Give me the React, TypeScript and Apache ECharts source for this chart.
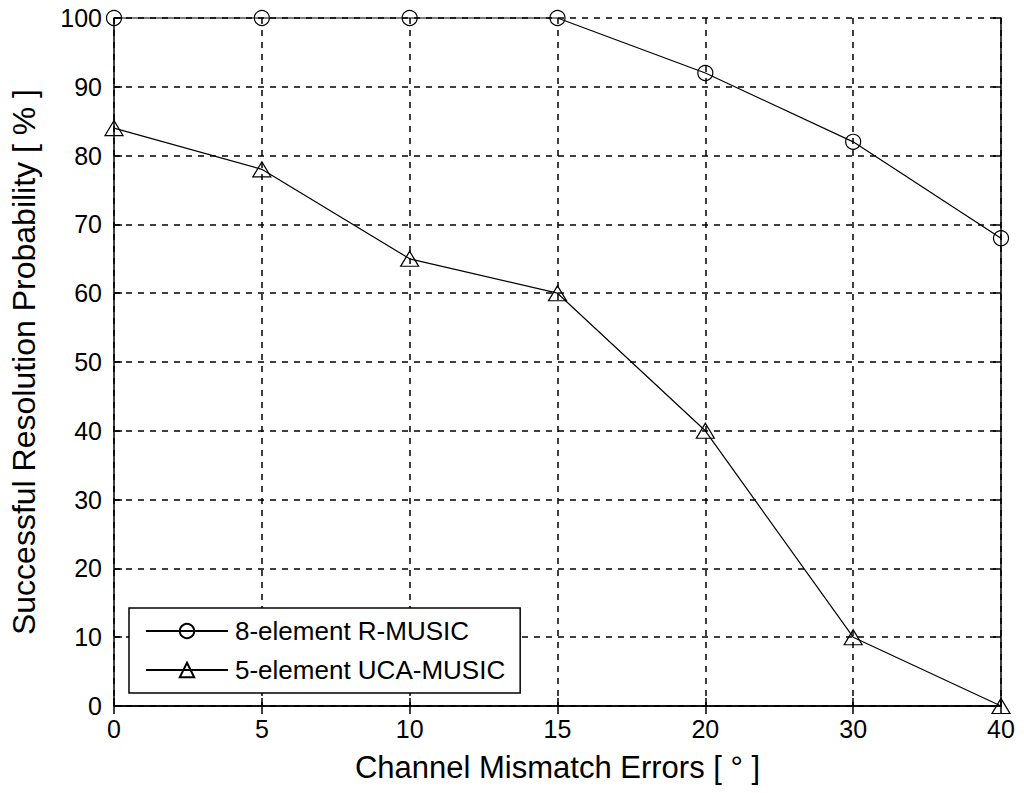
import React, { useEffect, useRef } from "react";
import * as echarts from "echarts";

const categories = ["0", "5", "10", "15", "20", "30", "40"];
const rMusic = [100, 100, 100, 100, 92, 82, 68];
const ucaMusic = [84, 78, 65, 60, 40, 10, 0];
const seriesNames = ["8-element R-MUSIC", "5-element UCA-MUSIC"];

const FONT = "Liberation Sans, Arial, sans-serif";

export default function App() {
  const ref = useRef<HTMLDivElement>(null);
  useEffect(() => {
    if (!ref.current) return;
    const chart = echarts.init(ref.current, undefined, { renderer: "svg" });
    const axisLine = { show: true, lineStyle: { color: "#000", width: 1.5 } };
    const tick = { show: true, inside: true, length: 8, lineStyle: { color: "#000", width: 1.5 } };
    chart.setOption({
      animation: false,
      backgroundColor: "#fff",
      textStyle: { fontFamily: FONT, color: "#000" },
      grid: { left: 113, right: 23, top: 18, bottom: 87, containLabel: false },
      legend: {
        orient: "vertical",
        left: 129,
        top: 608,
        padding: [8, 15, 8, 16],
        backgroundColor: "#fff",
        borderColor: "#000",
        borderWidth: 1.5,
        borderRadius: 0,
        itemWidth: 82,
        itemHeight: 18,
        itemGap: 9,
        data: seriesNames,
        textStyle: { fontFamily: FONT, fontSize: 26, lineHeight: 30, color: "#000", padding: [0, 0, 0, 2] },
      },
      xAxis: [
        {
          type: "category",
          data: categories,
          boundaryGap: false,
          axisLine,
          axisTick: { ...tick, alignWithLabel: true },
          axisLabel: { color: "#000", fontSize: 25, fontFamily: FONT, margin: 10 },
          splitLine: { show: true, lineStyle: { color: "#000", type: [6, 6], width: 1.5 } },
          name: "Channel Mismatch Errors [ ° ]",
          nameLocation: "middle",
          nameGap: 46,
          nameTextStyle: { color: "#000", fontSize: 31, fontFamily: FONT },
        },
        {
          type: "category",
          data: categories,
          boundaryGap: false,
          position: "top",
          axisLine,
          axisTick: tick,
          axisLabel: { show: false },
          splitLine: { show: false },
        },
      ],
      yAxis: [
        {
          type: "value",
          min: 0,
          max: 100,
          interval: 10,
          axisLine,
          axisTick: tick,
          axisLabel: { color: "#000", fontSize: 25, fontFamily: FONT, margin: 12 },
          splitLine: { show: true, lineStyle: { color: "#000", type: [6, 6], width: 1.5 } },
          name: "Successful Resolution Probability [ % ]",
          nameLocation: "middle",
          nameGap: 74,
          nameTextStyle: { color: "#000", fontSize: 32, fontFamily: FONT },
        },
        {
          type: "value",
          min: 0,
          max: 100,
          interval: 10,
          position: "right",
          axisLine,
          axisTick: tick,
          axisLabel: { show: false },
          splitLine: { show: false },
        },
      ],
      series: [
        {
          name: seriesNames[0],
          type: "line",
          data: rMusic,
          clip: false,
          symbol: "circle",
          symbolSize: 15,
          lineStyle: { color: "#000", width: 1.2 },
          itemStyle: { color: "rgba(255,255,255,0)", borderColor: "#000", borderWidth: 1.2 },
          z: 5,
        },
        {
          name: seriesNames[1],
          type: "line",
          data: ucaMusic,
          clip: false,
          symbol: "triangle",
          symbolSize: [18, 15],
          lineStyle: { color: "#000", width: 1.2 },
          itemStyle: { color: "rgba(255,255,255,0)", borderColor: "#000", borderWidth: 1.2 },
          z: 5,
        },
      ],
    });
    return () => chart.dispose();
  }, []);
  return (
    <div
      ref={ref}
      style={{ position: "fixed", left: 0, top: 0, width: 1024, height: 793, background: "#fff" }}
    />
  );
}
